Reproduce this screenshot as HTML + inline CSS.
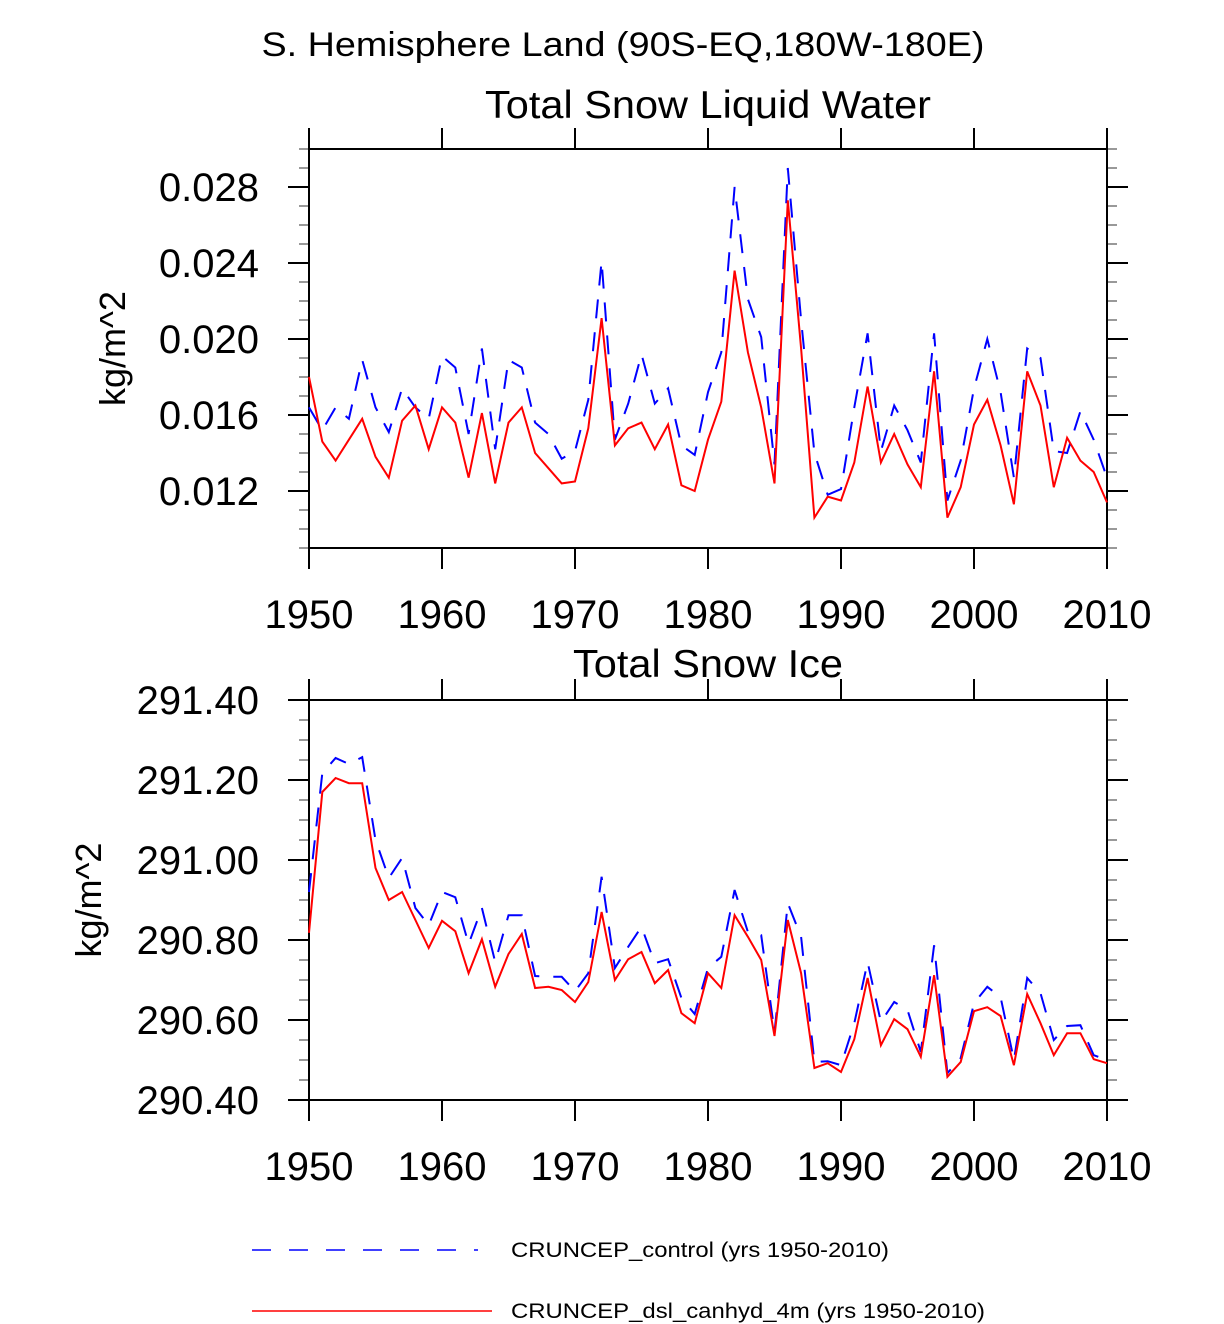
<!DOCTYPE html>
<html><head><meta charset="utf-8"><style>
html,body{margin:0;padding:0;background:#fff;}
svg{display:block;font-family:"Liberation Sans",sans-serif;}
</style></head><body>
<svg id="chart" width="1224" height="1324" viewBox="0 0 1224 1324">
<text x="623" y="56" font-size="34" text-anchor="middle" textLength="723" lengthAdjust="spacingAndGlyphs">S. Hemisphere Land (90S-EQ,180W-180E)</text>
<text x="708" y="118" font-size="39" text-anchor="middle" textLength="446" lengthAdjust="spacingAndGlyphs">Total Snow Liquid Water</text>
<text x="708" y="677" font-size="39" text-anchor="middle" textLength="270" lengthAdjust="spacingAndGlyphs">Total Snow Ice</text>
<g id="top"></g>
<g id="bot"></g>
<g>
<line x1="252" y1="1250" x2="478" y2="1250" stroke="#0000ff" stroke-width="1.5" stroke-dasharray="19 18"/>
<text x="511" y="1257" font-size="21" textLength="378" lengthAdjust="spacingAndGlyphs">CRUNCEP_control (yrs 1950-2010)</text>
<line x1="252" y1="1311" x2="492" y2="1311" stroke="#ff0000" stroke-width="1.5"/>
<text x="511" y="1318" font-size="21" textLength="474" lengthAdjust="spacingAndGlyphs">CRUNCEP_dsl_canhyd_4m (yrs 1950-2010)</text>
</g>
</svg>
<script>
const years=[];for(let y=1950;y<=2010;y++)years.push(y);
const xTicks=[1950,1960,1970,1980,1990,2000,2010];
const waterControl=[0.0164,0.0152,0.0164,0.0158,0.0189,0.0164,0.0151,0.0174,0.0164,0.0158,0.0191,0.0185,0.0150,0.0195,0.0142,0.0189,0.0185,0.0156,0.0150,0.0137,0.0141,0.0168,0.0241,0.0147,0.0166,0.0192,0.0166,0.0174,0.0144,0.0139,0.0172,0.0193,0.0280,0.0221,0.0201,0.0134,0.0290,0.0210,0.0140,0.0118,0.0121,0.0164,0.0203,0.0141,0.0165,0.0152,0.0135,0.0203,0.0115,0.0136,0.0174,0.0200,0.0172,0.0127,0.0195,0.0190,0.0141,0.0140,0.0162,0.0147,0.0127];
const waterDsl=[0.0180,0.0146,0.0136,0.0147,0.0158,0.0138,0.0127,0.0157,0.0165,0.0142,0.0164,0.0156,0.0127,0.0161,0.0124,0.0156,0.0164,0.0140,0.0132,0.0124,0.0125,0.0153,0.0211,0.0144,0.0153,0.0156,0.0142,0.0155,0.0123,0.0120,0.0147,0.0167,0.0236,0.0193,0.0164,0.0124,0.0273,0.0195,0.0106,0.0117,0.0115,0.0135,0.0175,0.0135,0.0150,0.0134,0.0122,0.0183,0.0106,0.0122,0.0155,0.0168,0.0144,0.0113,0.0183,0.0165,0.0122,0.0148,0.0136,0.0130,0.0114];
const waterTicks=[0.012,0.016,0.020,0.024,0.028];
const waterTickLabels=["0.012","0.016","0.020","0.024","0.028"];
const iceControl=[290.92,291.217,291.255,291.24,291.257,291.05,290.955,291.005,290.88,290.837,290.92,290.907,290.79,290.88,290.745,290.862,290.862,290.71,290.708,290.708,290.672,290.717,290.958,290.73,290.783,290.833,290.742,290.752,290.655,290.615,290.73,290.758,290.925,290.82,290.812,290.57,290.892,290.808,290.495,290.497,290.487,290.592,290.745,290.595,290.645,290.625,290.52,290.787,290.467,290.505,290.642,290.683,290.657,290.50,290.705,290.667,290.55,290.585,290.587,290.512,290.50];
const iceDsl=[290.818,291.17,291.205,291.192,291.192,290.98,290.90,290.92,290.85,290.78,290.848,290.822,290.717,290.802,290.683,290.765,290.815,290.68,290.683,290.675,290.645,290.695,290.87,290.70,290.752,290.77,290.692,290.725,290.617,290.592,290.717,290.68,290.862,290.808,290.75,290.56,290.85,290.717,290.48,290.492,290.47,290.552,290.705,290.537,290.602,290.577,290.508,290.712,290.458,290.495,290.622,290.632,290.61,290.487,290.665,290.592,290.512,290.567,290.567,290.502,290.492];
const iceTicks=[290.4,290.6,290.8,291.0,291.2,291.4];
const iceTickLabels=["290.40","290.60","290.80","291.00","291.20","291.40"];

const NS="http://www.w3.org/2000/svg";
function mk(parent,tag,attrs){const e=document.createElementNS(NS,tag);for(const k in attrs)e.setAttribute(k,attrs[k]);parent.appendChild(e);return e;}
const X0=309,X1=1107;
function xs(y){return X0+(y-1950)/(2010-1950)*(X1-X0);}

function panel(g,top,bot,ymin,ymax,minorStep,ticks,labels,ctrl,dsl,labelX,yTitleX,xLabelY,name){
  const ys=v=>bot-(v-ymin)/(ymax-ymin)*(bot-top);
  // minor ticks
  for(let v=ymin;v<=ymax+1e-9;v+=minorStep){
    const y=ys(v);
    const l=mk(g,'line',{x1:X0-10,y1:y,x2:X0,y2:y,stroke:'#777','stroke-width':1.5});
    
    
    const r=mk(g,'line',{x1:X1,y1:y,x2:X1+10,y2:y,stroke:'#777','stroke-width':1.5});
    
    
  }
  ticks.forEach((v,i)=>{
    const y=ys(v);
    const l=mk(g,'line',{x1:X0-21,y1:y,x2:X0,y2:y,stroke:'#000','stroke-width':2});
    
    
    const r=mk(g,'line',{x1:X1,y1:y,x2:X1+21,y2:y,stroke:'#000','stroke-width':2});
    
    
    const t=mk(g,'text',{x:labelX,y:y+14,'font-size':40,'text-anchor':'end'});
    t.textContent=labels[i];
    
    
  });
  xTicks.forEach(yr=>{
    const x=xs(yr);
    const a=mk(g,'line',{x1:x,y1:top-21,x2:x,y2:top,stroke:'#000','stroke-width':2});
    
    
    const b=mk(g,'line',{x1:x,y1:bot,x2:x,y2:bot+21,stroke:'#000','stroke-width':2});
    
    
    const t=mk(g,'text',{x:x,y:xLabelY,'font-size':40,'text-anchor':'middle'});
    t.textContent=String(yr);
    
    
  });
  const frame=mk(g,'rect',{x:X0,y:top,width:X1-X0,height:bot-top,fill:'none',stroke:'#000','stroke-width':2});
  
  
  const cy=(top+bot)/2;
  const yt=mk(g,'text',{x:yTitleX,y:cy,'font-size':36,'text-anchor':'middle',transform:`rotate(-90 ${yTitleX} ${cy})`});
  yt.textContent='kg/m^2';
  
  
  const pc=mk(g,'polyline',{points:ctrl.map((v,i)=>xs(years[i])+','+ys(v)).join(' '),fill:'none',stroke:'#0000ff','stroke-width':2,'stroke-dasharray':'19 14'});
  
  
  const pd=mk(g,'polyline',{points:dsl.map((v,i)=>xs(years[i])+','+ys(v)).join(' '),fill:'none',stroke:'#ff0000','stroke-width':2});
  
  
}
panel(document.getElementById('top'),149,548,0.009,0.030,0.001,waterTicks,waterTickLabels,waterControl,waterDsl,259,125,628,'water');
panel(document.getElementById('bot'),700,1100,290.4,291.4,0.05,iceTicks,iceTickLabels,iceControl,iceDsl,259,101,1180,'ice');
</script>
</body></html>
